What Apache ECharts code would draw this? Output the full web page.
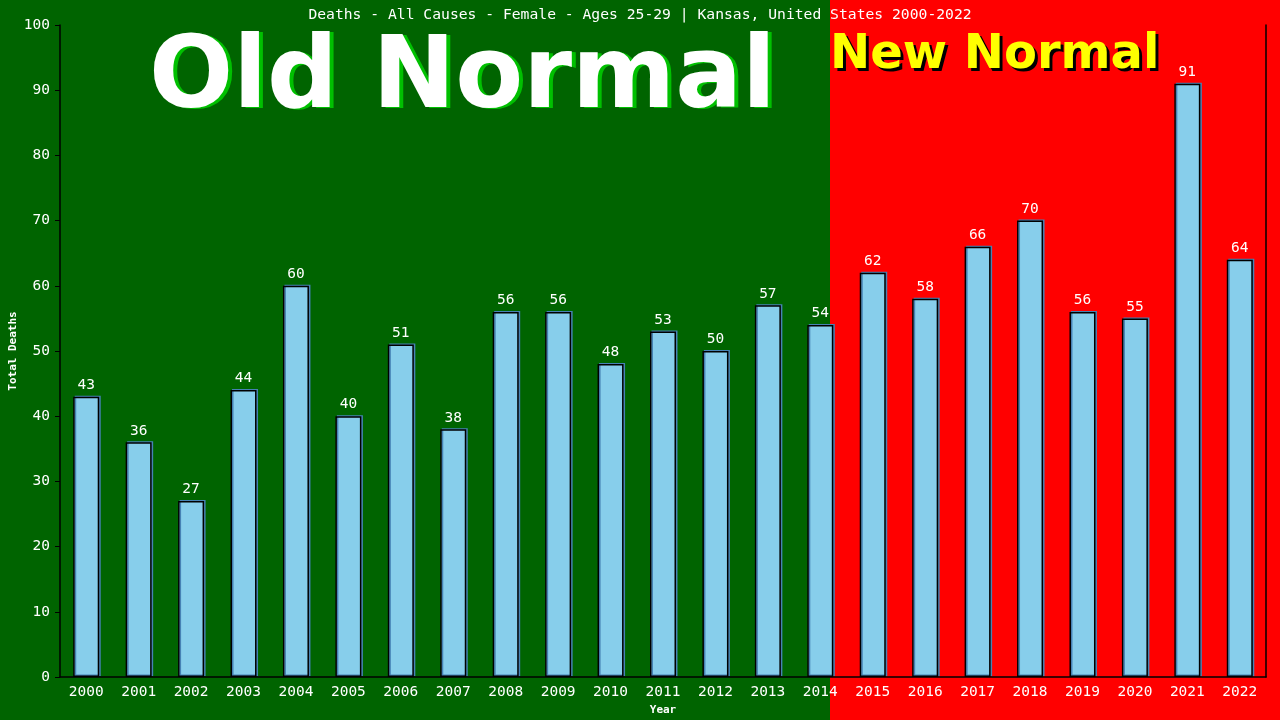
<!DOCTYPE html>
<html>
<head>
<meta charset="utf-8">
<script src="https://cdn.jsdelivr.net/npm/echarts@6/dist/echarts.min.js"></script>
<style>
  html, body { margin: 0; padding: 0; background: #006400; }
  #chart { width: 1280px; height: 720px; }
</style>
</head>
<body>
<div id="chart"></div>
<script>
// 数据
const years = ['2000', '2001', '2002', '2003', '2004', '2005', '2006', '2007', '2008', '2009', '2010', '2011',
    '2012', '2013', '2014', '2015', '2016', '2017', '2018', '2019', '2020', '2021', '2022'];
const deaths = [43, 36, 27, 44, 60, 40, 51, 38, 56, 56, 48, 53, 50, 57, 54, 62, 58, 66, 70, 56, 55, 91, 64];
const yTicks = [0, 10, 20, 30, 40, 50, 60, 70, 80, 90, 100];

const titleText = 'Deaths - All Causes - Female - Ages 25-29 | Kansas, United States 2000-2022';
const mono = '"DejaVu Sans Mono", monospace';
const oldFont = 'bold 99px "DejaVu Sans"';
const newFont = 'bold 48px "DejaVu Sans"';

const chart = echarts.init(document.getElementById('chart'));

const option = {
    backgroundColor: '#006400',
    animation: false,
    title: {
        text: titleText,
        left: 'center',
        top: 3,
        textStyle: { color: '#fff', fontFamily: mono, fontSize: 14.7, fontWeight: 'normal' }
    },
    graphic: [
        // 右侧红色背景（New Normal 区域）
        { type: 'rect', z: -10, shape: { x: 830, y: 0, width: 450, height: 720 }, style: { fill: '#ff0000' } },
        // 文字阴影 + 正文
        { type: 'text', z: 1, left: 153, top: 33, style: { text: 'Old Normal', fill: '#00c000', font: oldFont } },
        { type: 'text', z: 2, left: 149, top: 32, style: { text: 'Old Normal', fill: '#fff', font: oldFont } },
        { type: 'text', z: 1, left: 833, top: 35, style: { text: 'New Normal', fill: '#000', font: newFont } },
        { type: 'text', z: 2, left: 830, top: 32, style: { text: 'New Normal', fill: '#ffff00', font: newFont } },
        // 纵轴名称
        {
            type: 'text', z: 2, x: 13, y: 351, rotation: Math.PI / 2,
            style: {
                text: 'Total Deaths', fill: '#fff', align: 'center', verticalAlign: 'middle',
                font: 'bold 11px "DejaVu Sans Mono"'
            }
        }
    ],
    grid: { left: 60, right: 14, top: 25, bottom: 43, containLabel: false, outerBoundsMode: 'none' },
    xAxis: {
        type: 'category',
        data: years,
        name: 'Year',
        nameLocation: 'middle',
        nameGap: 26,
        nameTextStyle: { color: '#fff', fontFamily: mono, fontSize: 11, fontWeight: 'bold' },
        axisLine: { lineStyle: { color: '#000', width: 1.5 } },
        axisTick: { show: false },
        axisLabel: { color: '#fff', fontFamily: mono, fontSize: 14.5, margin: 8 }
    },
    yAxis: [
        {
            type: 'value',
            min: yTicks[0],
            max: yTicks[yTicks.length - 1],
            interval: 10,
            axisLine: { show: true, lineStyle: { color: '#000', width: 1.5 } },
            axisTick: { show: true, length: 5, lineStyle: { color: '#000' } },
            axisLabel: { color: '#fff', fontFamily: mono, fontSize: 14.5, margin: 10 },
            splitLine: { show: false }
        },
        {
            type: 'value',
            position: 'right',
            min: 0,
            max: 100,
            interval: 10,
            axisLine: { show: true, lineStyle: { color: '#000', width: 1.5 } },
            axisTick: { show: false },
            axisLabel: { show: false },
            splitLine: { show: false }
        }
    ],
    series: [
        {
            type: 'bar',
            data: deaths,
            barWidth: 26,
            itemStyle: {
                color: '#87ceeb',
                borderColor: '#000',
                borderWidth: 1.5,
                shadowColor: '#4682b4',
                shadowOffsetX: 1.5,
                shadowOffsetY: -1
            },
            label: {
                show: true,
                position: 'top',
                distance: 4,
                color: '#fff',
                fontFamily: mono,
                fontSize: 14.5
            }
        }
    ]
};

chart.setOption(option);
</script>
</body>
</html>
